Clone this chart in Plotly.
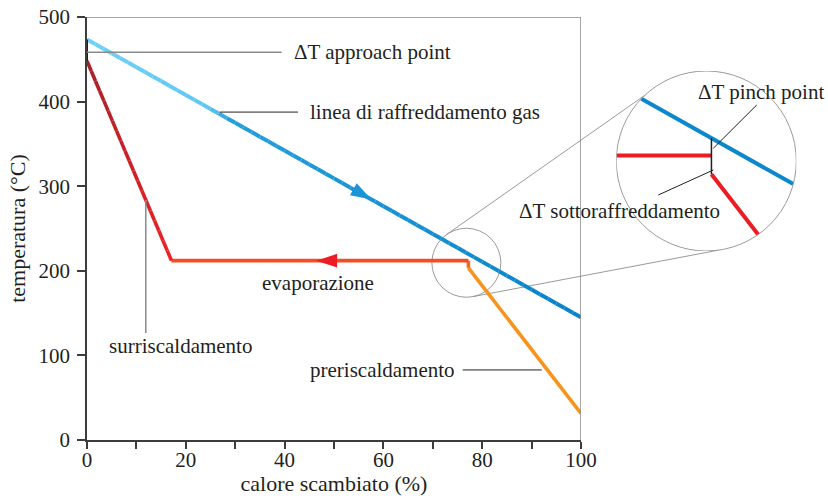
import math
import plotly.graph_objects as go

# ---------------- data ----------------
gas_x = [0, 100]
gas_y = [473.5, 145.0]
water_x = [100, 77.2, 77.2, 17.1, 0]          # preheat -> evaporation -> superheat
water_y = [31.5, 203.5, 212.0, 212.0, 448.0]
x_tick_vals = [0, 20, 40, 60, 80, 100]
y_tick_vals = [0, 100, 200, 300, 400, 500]
gas_arrow_x = 57.6
evap_arrow_x = 46.4
zoom_cx, zoom_cy = 76.8, 209.5                 # centre of magnified region (data)

# colours
gas_stops = [(0, "#72d1f7"), (25, "#5fc7f2"), (29, "#25a0dc"), (100, "#0983c8")]
superheat_stops = [(0, "#a8212a"), (1, "#ee2326")]
C_EVAP = "#f04e26"
C_KINK = "#f26a22"
C_PRE = "#f7941d"
C_RED = "#ed1c24"
C_BLUE = "#0b87cc"
C_TXT = "#231f20"
C_GRAY = "#9a9a9a"
FONT = "Liberation Serif, Times New Roman, serif"

# ---------------- geometry (pixels) ----------------
W, H = 828, 496
ML, MT, MB, MR = 87, 17, 56, 20
PW = W - ML - MR
PH = H - MT - MB
MAIN_W = 494
BIG_C = (706.3, 161.0)
BIG_R = 90.0
SMALL_R = 34.5


def pxx(p):
    return (p - ML) / PW


def pxy(p):
    return (MT + PH - p) / PH


def X(x):
    return ML + x * MAIN_W / 100.0


def Y(y):
    return MT + PH - y * PH / 500.0


rx = SMALL_R / (MAIN_W / 100.0)
ry = SMALL_R / (PH / 500.0)
ix_range = [zoom_cx - rx, zoom_cx + rx]
iy_range = [zoom_cy - ry, zoom_cy + ry]


def hex2rgb(h):
    h = h.lstrip("#")
    return tuple(int(h[i:i + 2], 16) for i in (0, 2, 4))


def col_at(stops, t):
    for (a, ca), (b, cb) in zip(stops[:-1], stops[1:]):
        if a <= t <= b:
            f = 0 if b == a else (t - a) / (b - a)
            r1, g1, b1 = hex2rgb(ca)
            r2, g2, b2 = hex2rgb(cb)
            return "rgb(%d,%d,%d)" % (r1 + (r2 - r1) * f, g1 + (g2 - g1) * f, b1 + (b2 - b1) * f)
    return stops[-1][1]


def lerp(p, q, t):
    return p + (q - p) * t


def clip_segment(x0, y0, x1, y1):
    """portion of segment inside the zoom ellipse (data units)"""
    dx, dy = x1 - x0, y1 - y0
    ax, ay = (x0 - zoom_cx) / rx, (y0 - zoom_cy) / ry
    bx, by = dx / rx, dy / ry
    A = bx * bx + by * by
    B = 2 * (ax * bx + ay * by)
    Cc = ax * ax + ay * ay - 1
    disc = B * B - 4 * A * Cc
    if disc <= 0 or A == 0:
        return None
    s = math.sqrt(disc)
    t0 = max(0.0, (-B - s) / (2 * A))
    t1 = min(1.0, (-B + s) / (2 * A))
    if t1 <= t0:
        return None
    return ([x0 + dx * t0, x0 + dx * t1], [y0 + dy * t0, y0 + dy * t1])


fig = go.Figure()


def seg(x, y, color, width, xa="x", ya="y"):
    fig.add_trace(go.Scatter(x=x, y=y, mode="lines", xaxis=xa, yaxis=ya,
                             line=dict(color=color, width=width),
                             hoverinfo="skip", showlegend=False))


# gas cooling line with colour gradient
N = 60
for i in range(N):
    t0, t1 = i / N, (i + 1) / N
    xa_, xb_ = lerp(gas_x[0], gas_x[1], t0), lerp(gas_x[0], gas_x[1], t1)
    ya_, yb_ = lerp(gas_y[0], gas_y[1], t0), lerp(gas_y[0], gas_y[1], t1)
    seg([xa_, xb_], [ya_, yb_], col_at(gas_stops, (xa_ + xb_) / 2), 4)

# preheating (orange), kink, evaporation, superheating (gradient red)
seg(water_x[0:2], water_y[0:2], C_PRE, 3.6)
seg(water_x[1:3], water_y[1:3], C_KINK, 3.6)
seg(water_x[2:4], water_y[2:4], C_EVAP, 3.6)
M = 20
for i in range(M):
    t0, t1 = i / M, (i + 1) / M
    xa_, xb_ = lerp(water_x[3], water_x[4], t0), lerp(water_x[3], water_x[4], t1)
    ya_, yb_ = lerp(water_y[3], water_y[4], t0), lerp(water_y[3], water_y[4], t1)
    seg([xa_, xb_], [ya_, yb_], col_at(superheat_stops, 1 - (t0 + t1) / 2), 3.6)


# direction arrows
def gas_at(x):
    return gas_y[0] + (gas_y[1] - gas_y[0]) * (x - gas_x[0]) / (gas_x[1] - gas_x[0])


dxp = X(gas_x[1]) - X(gas_x[0])
dyp = Y(gas_y[1]) - Y(gas_y[0])
gas_angle = math.degrees(math.atan2(dxp, -dyp))
fig.add_trace(go.Scatter(x=[gas_arrow_x], y=[gas_at(gas_arrow_x)], mode="markers",
                         marker=dict(symbol="arrow", size=22, angle=gas_angle, color="#1b95d5",
                                     line=dict(width=0)),
                         hoverinfo="skip", showlegend=False))
fig.add_trace(go.Scatter(x=[evap_arrow_x], y=[water_y[2]], mode="markers",
                         marker=dict(symbol="arrow", size=22, angle=270, color=C_RED,
                                     line=dict(width=0)),
                         hoverinfo="skip", showlegend=False))

# ---------------- inset (magnified) ----------------
g = clip_segment(gas_x[0], gas_y[0], gas_x[1], gas_y[1])
if g:
    seg(g[0], g[1], C_BLUE, 4, "x2", "y2")
e = clip_segment(water_x[3], water_y[3], water_x[2], water_y[2])
if e:
    seg(e[0], e[1], C_RED, 4, "x2", "y2")
p = clip_segment(water_x[1], water_y[1], water_x[0], water_y[0])
if p:
    seg(p[0], p[1], C_RED, 4, "x2", "y2")
# delta-T bracket (black vertical) at pinch
seg([water_x[1], water_x[1]], [gas_at(water_x[1]), water_y[1]], C_TXT, 1.5, "x2", "y2")

# ---------------- shapes ----------------
shapes = []
shapes.append(dict(type="line", xref="x", yref="y", x0=0, x1=100, y0=500, y1=500,
                   line=dict(color="#8a8a8a", width=1.5)))
shapes.append(dict(type="line", xref="x", yref="y", x0=100, x1=100, y0=0, y1=500,
                   line=dict(color="#8a8a8a", width=1.5)))
shapes.append(dict(type="line", xref="x", yref="y", x0=0, x1=0, y0=water_y[4], y1=gas_y[0],
                   line=dict(color=C_TXT, width=2)))
shapes.append(dict(type="line", xref="x", yref="y", x0=0, x1=39.4, y0=458.3, y1=458.3,
                   line=dict(color="#8a8a8a", width=1.5)))
shapes.append(dict(type="line", xref="x", yref="y", x0=26.9, x1=42.7, y0=387.6, y1=387.6,
                   line=dict(color=C_TXT, width=1)))
sh_x = 11.9
sh_y = water_y[4] + (water_y[3] - water_y[4]) * sh_x / water_x[3]
shapes.append(dict(type="line", xref="x", yref="y", x0=sh_x, x1=sh_x, y0=sh_y, y1=126.6,
                   line=dict(color="#8a8a8a", width=1.5)))
shapes.append(dict(type="line", xref="x", yref="y", x0=76.05, x1=92.05, y0=82.8, y1=82.8,
                   line=dict(color=C_TXT, width=1)))
shapes.append(dict(type="circle", xref="x", yref="y", x0=ix_range[0], x1=ix_range[1],
                   y0=iy_range[0], y1=iy_range[1], line=dict(color=C_GRAY, width=1), layer="below"))
shapes.append(dict(type="circle", xref="x2", yref="y2", x0=ix_range[0], x1=ix_range[1],
                   y0=iy_range[0], y1=iy_range[1], line=dict(color=C_GRAY, width=1)))
sc = (X(zoom_cx), Y(zoom_cy))
for a_s, a_b in [(-126.5, -133.0), (78.0, 82.5)]:
    x0p = sc[0] + SMALL_R * math.cos(math.radians(a_s))
    y0p = sc[1] + SMALL_R * math.sin(math.radians(a_s))
    x1p = BIG_C[0] + BIG_R * math.cos(math.radians(a_b))
    y1p = BIG_C[1] + BIG_R * math.sin(math.radians(a_b))
    shapes.append(dict(type="line", xref="paper", yref="paper", x0=pxx(x0p), y0=pxy(y0p),
                       x1=pxx(x1p), y1=pxy(y1p), line=dict(color=C_GRAY, width=1), layer="below"))
shapes.append(dict(type="line", xref="paper", yref="paper", x0=pxx(713.3), y0=pxy(148.3),
                   x1=pxx(756.7), y1=pxy(105), line=dict(color=C_TXT, width=1)))
shapes.append(dict(type="line", xref="paper", yref="paper", x0=pxx(713.3), y0=pxy(170),
                   x1=pxx(658.3), y1=pxy(195), line=dict(color=C_TXT, width=1)))

# ---------------- annotations ----------------
tf = dict(family=FONT, size=21, color=C_TXT)
ann = [
    dict(x=41.4, y=458.3, xref="x", yref="y", text="ΔT approach point", xanchor="left"),
    dict(x=44.7, y=387.6, xref="x", yref="y", text="linea di raffreddamento gas", xanchor="left"),
    dict(x=46.8, y=185.8, xref="x", yref="y", text="evaporazione", xanchor="center"),
    dict(x=18.9, y=111, xref="x", yref="y", text="surriscaldamento", xanchor="center"),
    dict(x=59.9, y=82.8, xref="x", yref="y", text="preriscaldamento", xanchor="center"),
    dict(x=pxx(761), y=pxy(91.7), xref="paper", yref="paper", text="ΔT pinch point", xanchor="center"),
    dict(x=pxx(619), y=pxy(211), xref="paper", yref="paper", text="ΔT sottoraffreddamento", xanchor="center"),
]
for a in ann:
    a.update(showarrow=False, yanchor="middle", font=tf)

axis_common = dict(showgrid=False, zeroline=False, showline=True, linecolor="#3c3c3c",
                   linewidth=1.5, ticks="outside", tickcolor="#3c3c3c", tickwidth=1.5,
                   tickfont=dict(family=FONT, size=21, color=C_TXT))

fig.update_layout(
    width=W, height=H,
    font=dict(family=FONT, size=21, color=C_TXT),
    margin=dict(l=ML, r=MR, t=MT, b=MB, autoexpand=False),
    paper_bgcolor="white", plot_bgcolor="white",
    showlegend=False,
    xaxis=dict(axis_common, domain=[0, MAIN_W / PW], range=[0, 100], tickvals=x_tick_vals,
               ticklen=7, ticklabelstandoff=-7,
               minor=dict(dtick=10, ticks="outside", ticklen=7, tickcolor="#3c3c3c", tickwidth=1.5),
               title=dict(text="calore scambiato (%)", font=dict(family=FONT, size=22, color=C_TXT), standoff=13)),
    yaxis=dict(axis_common, domain=[0, 1], range=[0, 500], tickvals=y_tick_vals, ticklen=8,
               ticklabelstandoff=3,
               title=dict(text="temperatura (°C)", font=dict(family=FONT, size=22, color=C_TXT), standoff=7)),
    xaxis2=dict(domain=[pxx(BIG_C[0] - BIG_R), pxx(BIG_C[0] + BIG_R)], range=ix_range,
                visible=False, anchor="y2", fixedrange=True),
    yaxis2=dict(domain=[pxy(BIG_C[1] + BIG_R), pxy(BIG_C[1] - BIG_R)], range=iy_range,
                visible=False, anchor="x2", fixedrange=True),
    shapes=shapes,
    annotations=ann,
)

fig.write_html("out.html")
